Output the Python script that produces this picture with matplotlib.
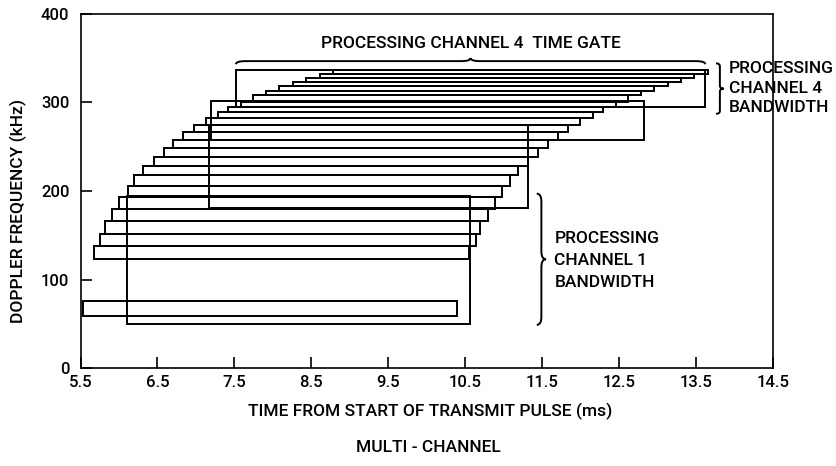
import numpy as np
import matplotlib
matplotlib.use("Agg")
import matplotlib.pyplot as plt
from matplotlib.path import Path
from matplotlib.patches import PathPatch, Rectangle

plt.rcParams['font.family'] = ['Roboto', 'DejaVu Sans']
plt.rcParams['font.weight'] = 'medium'

# doppler bins (kHz) and their time spans (ms)
freq_low = [59, 123, 138, 152, 166, 180, 193, 206, 218, 228, 238, 248, 258,
            266, 274, 282, 289, 295, 300, 308, 313, 318, 323, 328, 332]
freq_high = [76, 138, 152, 166, 180, 193, 206, 218, 228, 238, 248, 258, 266,
             274, 282, 289, 295, 300, 308, 313, 318, 323, 328, 332, 336]
t_start = [5.53, 5.68, 5.75, 5.82, 5.91, 6.00, 6.12, 6.20, 6.31, 6.45, 6.58,
           6.70, 6.83, 6.97, 7.13, 7.29, 7.42, 7.59, 7.74, 7.91, 8.08, 8.26,
           8.43, 8.61, 8.78]
t_end = [10.39, 10.55, 10.64, 10.69, 10.80, 10.89, 10.98, 11.08, 11.19, 11.32,
         11.45, 11.57, 11.70, 11.84, 11.99, 12.16, 12.29, 12.46, 12.61, 12.78,
         12.95, 13.13, 13.30, 13.48, 13.65]

# processing channel windows: time gate (ms) x bandwidth (kHz)
chan_t0 = [6.11, 7.17, 7.20, 7.52]
chan_t1 = [10.56, 11.32, 12.83, 13.62]
chan_f0 = [50, 181, 257, 295]
chan_f1 = [194, 274, 302, 336]

xticks = [5.5, 6.5, 7.5, 8.5, 9.5, 10.5, 11.5, 12.5, 13.5, 14.5]
yticks = [0, 100, 200, 300, 400]

LW = 1.4
FS = 12.5


def vbrace(ax, x, y0, y1, d):
    ym = (y0 + y1) / 2.0
    q = (y1 - y0) * 0.06
    xc = x + d / 2.0
    verts = [(x, y0), (xc, y0), (xc, y0 + q), (xc, ym - q), (xc, ym), (x + d, ym),
             (xc, ym), (xc, ym + q), (xc, y1 - q), (xc, y1), (x, y1)]
    codes = [Path.MOVETO, Path.CURVE3, Path.CURVE3, Path.LINETO, Path.CURVE3, Path.CURVE3,
             Path.CURVE3, Path.CURVE3, Path.LINETO, Path.CURVE3, Path.CURVE3]
    ax.add_patch(PathPatch(Path(verts, codes), fc='none', ec='black', lw=LW, clip_on=False))


def hbrace(ax, x0, x1, y, d):
    xm = (x0 + x1) / 2.0
    q = (x1 - x0) * 0.02
    yc = y + d / 2.0
    verts = [(x0, y), (x0, yc), (x0 + q, yc), (xm - q, yc), (xm, yc), (xm, y + d),
             (xm, yc), (xm + q, yc), (x1 - q, yc), (x1, yc), (x1, y)]
    codes = [Path.MOVETO, Path.CURVE3, Path.CURVE3, Path.LINETO, Path.CURVE3, Path.CURVE3,
             Path.CURVE3, Path.CURVE3, Path.LINETO, Path.CURVE3, Path.CURVE3]
    ax.add_patch(PathPatch(Path(verts, codes), fc='none', ec='black', lw=LW, clip_on=False))


fig = plt.figure(figsize=(8.36, 4.66), dpi=100)
ax = fig.add_axes([0.0963, 0.2097, 0.8283, 0.7609])

for a, b, lo, hi in zip(t_start, t_end, freq_low, freq_high):
    ax.add_patch(Rectangle((a, lo), b - a, hi - lo, fc='none', ec='black', lw=LW))

for a, b, lo, hi in zip(chan_t0, chan_t1, chan_f0, chan_f1):
    ax.add_patch(Rectangle((a, lo), b - a, hi - lo, fc='none', ec='black', lw=LW))

ax.set_xlim(5.5, 14.5)
ax.set_ylim(0, 400)
ax.set_xticks(xticks)
ax.set_xticklabels(["%.1f" % v for v in xticks])
ax.set_yticks(yticks)
ax.tick_params(direction='in', length=8, width=1.2, labelsize=12)
ax.tick_params(axis='y', pad=8)
ax.tick_params(axis='x', pad=5)
for s in ax.spines.values():
    s.set_linewidth(1.2)

# braces + labels
hbrace(ax, 7.52, 13.62, 343, 7)
ax.text(10.57, 366, "PROCESSING CHANNEL 4  TIME GATE", ha='center', va='center', fontsize=FS)
vbrace(ax, 13.76, 287, 344, 0.1)
ax.text(13.93, 316, "PROCESSING\nCHANNEL 4\nBANDWIDTH", ha='left', va='center',
        fontsize=FS, linespacing=1.4, clip_on=False)
vbrace(ax, 11.43, 49, 197, 0.12)
ax.text(11.66, 122, "PROCESSING\nCHANNEL 1\nBANDWIDTH", ha='left', va='center',
        fontsize=FS, linespacing=1.58)

fig.text(0.022, 0.547, "DOPPLER FREQUENCY (kHz)", rotation=90, ha='center', va='center', fontsize=FS)
fig.text(0.515, 0.116, "TIME FROM START OF TRANSMIT PULSE (ms)", ha='center', va='center', fontsize=FS)
fig.text(0.512, 0.039, "MULTI - CHANNEL", ha='center', va='center', fontsize=FS)

fig.savefig("out.png", dpi=100)
